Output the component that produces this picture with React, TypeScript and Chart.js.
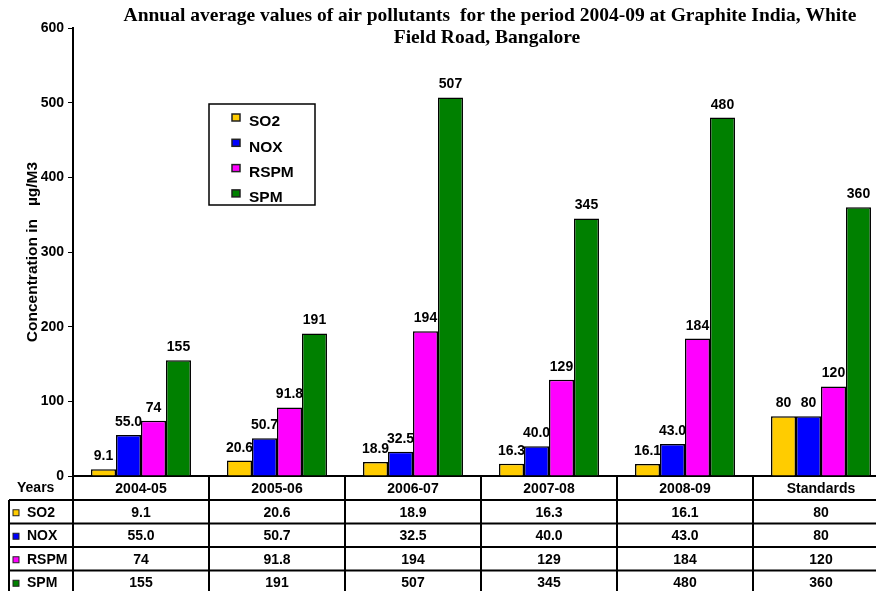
import React, { useEffect, useRef } from "react";
import { Chart, registerables } from "chart.js";

Chart.register(...registerables);

const categories = ["2004-05", "2005-06", "2006-07", "2007-08", "2008-09", "Standards"];
const seriesNames = ["SO2", "NOX", "RSPM", "SPM"];
const seriesColors = ["#FFCC00", "#0000FF", "#FF00FF", "#008000"];

const so2 = [9.1, 20.6, 18.9, 16.3, 16.1, 80];
const nox = [55.0, 50.7, 32.5, 40.0, 43.0, 80];
const rspm = [74, 91.8, 194, 129, 184, 120];
const spm = [155, 191, 507, 345, 480, 360];

const so2Text = ["9.1", "20.6", "18.9", "16.3", "16.1", "80"];
const noxText = ["55.0", "50.7", "32.5", "40.0", "43.0", "80"];
const rspmText = ["74", "91.8", "194", "129", "184", "120"];
const spmText = ["155", "191", "507", "345", "480", "360"];

const titleLines = [
  "Annual average values of air pollutants  for the period 2004-09 at Graphite India, White",
  "Field Road, Bangalore",
];
const yTitle = "Concentration in   \u00B5g/M3";
const tableHeader = "Years";

const SANS = '"Liberation Sans", Arial, sans-serif';
const SERIF = '"Liberation Serif", "Times New Roman", serif';

export default function App() {
  const ref = useRef<HTMLCanvasElement | null>(null);

  useEffect(() => {
    const canvas = ref.current;
    if (!canvas) return;
    const values = [so2, nox, rspm, spm];
    const texts = [so2Text, noxText, rspmText, spmText];

    const overlay = {
      id: "overlay",
      afterDraw(chart: any) {
        const ctx = chart.ctx as CanvasRenderingContext2D;
        const area = chart.chartArea;
        const xs = chart.scales.x;
        ctx.save();

        // data labels
        ctx.fillStyle = "#000";
        ctx.font = `bold 14px ${SANS}`;
        ctx.textAlign = "center";
        ctx.textBaseline = "alphabetic";
        chart.data.datasets.forEach((ds: any, di: number) => {
          const meta = chart.getDatasetMeta(di);
          meta.data.forEach((bar: any, i: number) => {
            ctx.fillText(texts[di][i], bar.x, bar.y - 9);
          });
        });

        // title
        ctx.font = `bold 19.5px ${SERIF}`;
        ctx.textBaseline = "middle";
        ctx.fillText(titleLines[0], 490, 16);
        ctx.fillText(titleLines[1], 487, 38);

        // y title
        ctx.save();
        ctx.translate(33, (area.top + area.bottom) / 2);
        ctx.rotate(-Math.PI / 2);
        ctx.font = `bold 15.5px ${SANS}`;
        ctx.textAlign = "center";
        ctx.textBaseline = "middle";
        ctx.fillText(yTitle, 0, 0);
        ctx.restore();

        // legend
        ctx.lineWidth = 1.5;
        ctx.strokeStyle = "#000";
        ctx.strokeRect(209, 104, 106, 101);
        ctx.font = `bold 15.5px ${SANS}`;
        ctx.textAlign = "left";
        ctx.textBaseline = "middle";
        chart.data.datasets.forEach((ds: any, di: number) => {
          const cy = 121 + di * 25.3;
          ctx.fillStyle = ds.backgroundColor;
          ctx.fillRect(232, cy - 7, 8, 7);
          ctx.lineWidth = 1.5;
          ctx.strokeStyle = "#222";
          ctx.strokeRect(232, cy - 7, 8, 7);
          ctx.fillStyle = "#000";
          ctx.fillText(ds.label, 249, cy + 1);
        });

        // data table
        const n = chart.data.labels.length;
        const w = (area.right - area.left) / n;
        const top = area.bottom;
        const rowH = 23.5;
        const headerBottom = 500;
        const tableLeft = 9;
        const bottom = headerBottom + rowH * 4;
        ctx.strokeStyle = "#000";
        ctx.lineWidth = 2;
        ctx.beginPath();
        for (let i = 0; i <= n; i++) {
          const x = area.left + i * w;
          ctx.moveTo(x, top);
          ctx.lineTo(x, bottom + 4);
        }
        ctx.moveTo(tableLeft, headerBottom);
        ctx.lineTo(tableLeft, bottom + 4);
        for (let r = 0; r <= 4; r++) {
          const y = headerBottom + r * rowH;
          ctx.moveTo(tableLeft, y);
          ctx.lineTo(area.right + 2, y);
        }
        ctx.stroke();

        ctx.fillStyle = "#000";
        ctx.font = `bold 14px ${SANS}`;
        ctx.textBaseline = "middle";
        ctx.textAlign = "left";
        ctx.fillText(tableHeader, 17, 488);
        ctx.textAlign = "center";
        chart.data.labels.forEach((lab: string, i: number) => {
          const cx = xs.getPixelForValue(i);
          ctx.fillText(lab, cx, 489);
        });
        chart.data.datasets.forEach((ds: any, di: number) => {
          const cy = headerBottom + di * rowH + rowH / 2 + 1;
          ctx.fillStyle = ds.backgroundColor;
          ctx.fillRect(13, cy - 3, 6, 6);
          ctx.lineWidth = 1;
          ctx.strokeStyle = "#222";
          ctx.strokeRect(13, cy - 3, 6, 6);
          ctx.fillStyle = "#000";
          ctx.textAlign = "left";
          ctx.fillText(ds.label, 27, cy);
          ctx.textAlign = "center";
          for (let i = 0; i < n; i++) {
            ctx.fillText(texts[di][i], xs.getPixelForValue(i), cy);
          }
        });

        ctx.restore();
      },
    };

    const chart = new Chart(canvas, {
      type: "bar",
      data: {
        labels: categories,
        datasets: seriesNames.map((name, i) => ({
          label: name,
          data: values[i],
          backgroundColor: seriesColors[i],
          borderColor: "#000",
          borderWidth: 1.5,
          barPercentage: 1,
          categoryPercentage: 0.735,
        })),
      },
      options: {
        responsive: false,
        animation: false,
        devicePixelRatio: 1,
        layout: { padding: { top: 28, left: 0, right: 1, bottom: 0 } },
        plugins: {
          legend: { display: false },
          title: { display: false },
          tooltip: { enabled: false },
        },
        scales: {
          x: {
            type: "category",
            ticks: { display: false },
            grid: { display: false },
            border: { display: true, color: "#000", width: 2 },
            afterFit: (s: any) => {
              s.height = 124;
            },
          },
          y: {
            min: 0,
            max: 600,
            ticks: {
              stepSize: 100,
              color: "#000",
              padding: 4,
              font: { family: SANS, size: 14, weight: "bold" },
            },
            grid: {
              display: true,
              drawOnChartArea: false,
              drawTicks: true,
              tickLength: 5,
              color: "#000",
              lineWidth: 1,
            },
            border: { display: true, color: "#000", width: 2 },
            afterFit: (s: any) => {
              s.width = 73;
            },
          },
        },
      },
      plugins: [overlay],
    });
    return () => chart.destroy();
  }, []);

  return (
    <div
      style={{
        position: "fixed",
        left: 0,
        top: 0,
        width: 876,
        height: 591,
        overflow: "hidden",
        background: "#fff",
      }}
    >
      <canvas ref={ref} width={890} height={600} style={{ display: "block" }} />
    </div>
  );
}
